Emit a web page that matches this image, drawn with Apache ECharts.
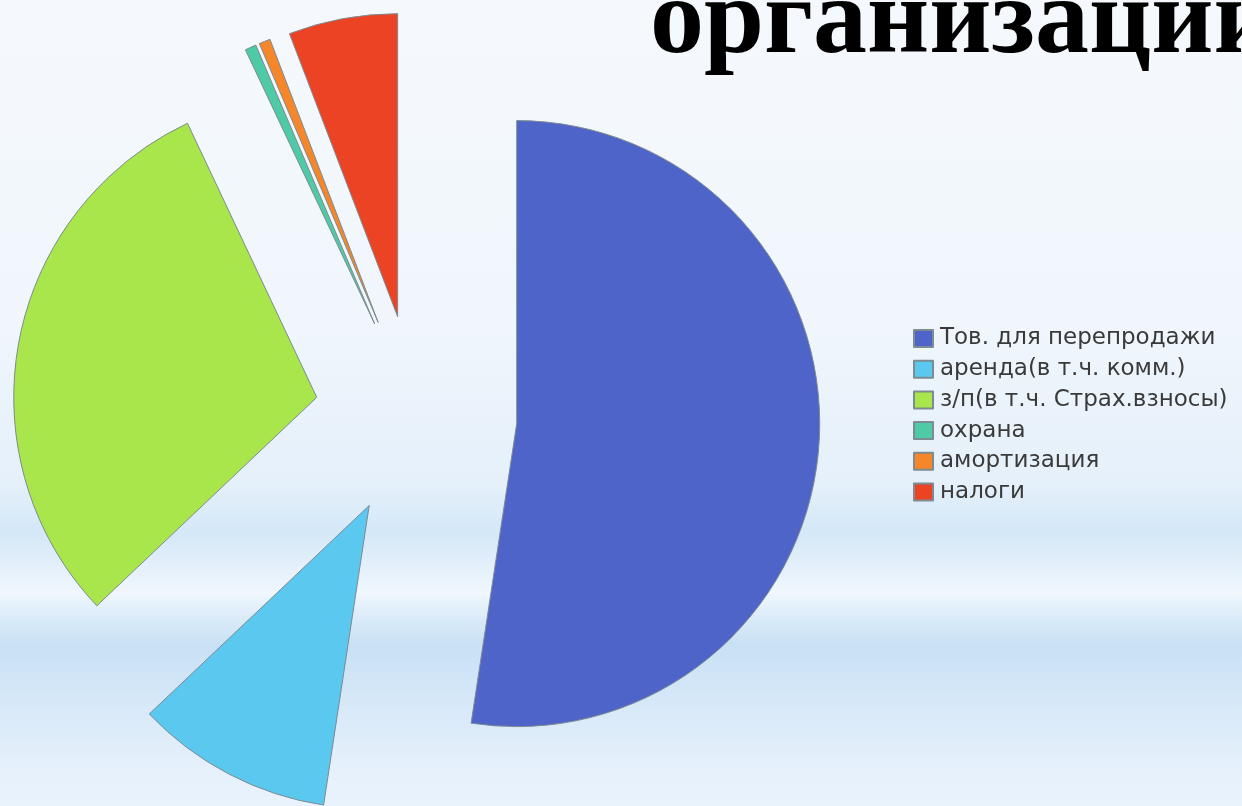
<!DOCTYPE html>
<html>
<head>
<meta charset="utf-8">
<script src="https://cdn.jsdelivr.net/npm/echarts@6/dist/echarts.min.js"></script>
<style>
html,body{margin:0;padding:0;width:1242px;height:806px;overflow:hidden;}
#chart{width:1242px;height:806px;}
</style>
</head>
<body>
<div id="chart"></div>
<script>
const categories = ['Тов. для перепродажи', 'аренда(в т.ч. комм.)', 'з/п(в т.ч. Страх.взносы)', 'охрана', 'амортизация', 'налоги'];
const values = [52.3, 10.5, 30.0, 0.6, 0.6, 5.8];
const colors = ['#4e64c8', '#5bc8ef', '#a8e64b', '#4ecba6', '#f5862a', '#ec4325'];
const titleText = 'организации';

const chart = echarts.init(document.getElementById('chart'), null, {renderer: 'canvas'});
const bg = new echarts.graphic.LinearGradient(0, 0, 0, 1, [
  {offset: 0, color: '#f5f9fd'},
  {offset: 0.40, color: '#f0f6fc'},
  {offset: 0.60, color: '#e5f0fa'},
  {offset: 0.66, color: '#d4e8f8'},
  {offset: 0.70, color: '#e3effa'},
  {offset: 0.735, color: '#f0f7fd'},
  {offset: 0.77, color: '#d8eaf8'},
  {offset: 0.80, color: '#c9e1f5'},
  {offset: 0.87, color: '#d6e8f8'},
  {offset: 0.95, color: '#e5f0fb'},
  {offset: 1, color: '#e9f3fc'}
]);

chart.setOption({
  animation: false,
  backgroundColor: bg,
  title: {
    text: titleText,
    left: 650,
    top: -30,
    padding: 0,
    textStyle: {
      fontFamily: 'Liberation Serif',
      fontWeight: 'bold',
      fontSize: 108,
      color: '#000'
    }
  },
  legend: {
    orient: 'vertical',
    left: 913,
    top: 327,
    padding: 0,
    itemWidth: 19,
    itemHeight: 17,
    itemGap: 7.7,
    icon: 'rect',
    data: categories,
    selectedMode: false,
    textStyle: {
      fontFamily: 'DejaVu Sans',
      fontSize: 23,
      color: '#3a3a3a',
      padding: [0, 0, 0, 2]
    }
  },
  series: [{
    type: 'pie',
    center: [416, 416],
    radius: 303,
    startAngle: 90,
    clockwise: true,
    selectedMode: 'multiple',
    selectedOffset: 101,
    avoidLabelOverlap: false,
    label: {show: false},
    labelLine: {show: false},
    emphasis: {disabled: true},
    itemStyle: {borderColor: '#7d8b92', borderWidth: 1},
    data: categories.map((name, i) => ({
      name: name,
      value: values[i],
      selected: true,
      itemStyle: {color: colors[i]}
    }))
  }]
});
</script>
</body>
</html>
